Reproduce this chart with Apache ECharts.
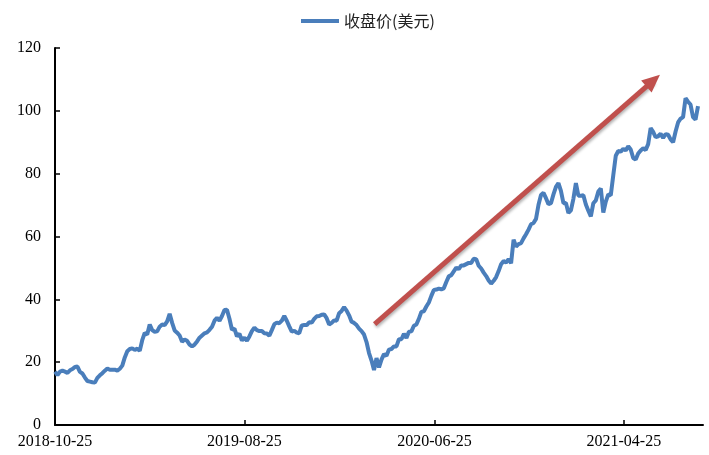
<!DOCTYPE html>
<html>
<head>
<meta charset="utf-8">
<script src="https://cdn.jsdelivr.net/npm/echarts@6/dist/echarts.min.js"></script>
<style>
html,body{margin:0;padding:0;background:#fff;}
#chart{width:709px;height:455px;}
</style>
</head>
<body>
<div id="chart"></div>
<script>
// ---- data ----
const seriesName = '收盘价(美元)';
const startDate = '2018-10-25';
const stepDays = 4;           // spacing between samples (calendar days)
const axisEndDays = 1040;     // axis length in days from startDate
const tickDates = ['2018-10-25', '2019-08-25', '2020-06-25', '2021-04-25'];
const yTicks = [0, 20, 40, 60, 80, 100, 120];
const prices = [
  17.0, 15.9, 17.0, 17.3, 17.0, 16.6, 17.4, 17.8, 18.5, 18.6,
  16.9, 16.4, 15.1, 14.0, 13.8, 13.6, 13.5, 15.0, 15.8, 16.5,
  17.3, 18.0, 17.6, 17.6, 17.6, 17.3, 17.9, 18.9, 21.5, 23.5,
  24.2, 24.4, 23.9, 24.3, 23.6, 27.0, 29.3, 28.8, 32.0, 30.2,
  29.7, 29.8, 31.3, 32.0, 31.8, 33.0, 35.4, 32.5, 30.1, 29.4,
  28.5, 26.5, 27.2, 26.8, 25.6, 25.0, 25.6, 26.6, 27.8, 28.5,
  29.2, 29.5, 30.3, 31.3, 33.2, 34.1, 33.2, 34.7, 36.6, 36.7,
  33.8, 30.3, 30.7, 28.2, 29.1, 26.9, 27.8, 26.8, 28.2, 29.9,
  31.0, 30.2, 29.9, 29.9, 29.2, 29.1, 28.4, 30.2, 32.1, 32.6,
  32.4, 33.2, 34.7, 33.2, 31.4, 29.7, 30.0, 29.4, 29.2, 31.7,
  31.8, 31.8, 32.7, 32.6, 33.8, 34.6, 34.7, 35.1, 35.2, 34.0,
  32.0, 32.5, 33.3, 33.2, 35.6, 36.3, 37.5, 36.4, 34.9, 32.9,
  32.5, 31.8, 30.7, 29.9, 28.8, 26.4, 22.9, 20.5, 17.5, 21.3,
  18.3, 20.8, 22.6, 22.0, 24.0, 24.2, 25.0, 25.0, 27.3, 27.3,
  29.0, 27.7, 29.7, 29.8, 31.6, 32.0, 33.8, 36.0, 36.2, 37.7,
  39.0, 41.1, 43.0, 43.1, 43.4, 43.2, 43.5, 45.5, 47.3, 47.7,
  48.9, 50.1, 49.6, 50.8, 50.8, 51.2, 51.6, 51.6, 52.9, 52.8,
  50.7, 49.8, 48.5, 47.4, 46.0, 45.0, 45.9, 47.1, 49.0, 51.2,
  52.2, 51.7, 52.8, 51.5, 59.0, 56.8, 57.6, 57.9, 59.4, 60.7,
  62.2, 63.9, 64.3, 65.6, 70.1, 73.2, 73.9, 72.2, 70.3, 70.6,
  73.4, 75.8, 77.0, 74.5, 70.6, 70.7, 67.5, 68.3, 72.0, 77.0,
  73.0, 73.0, 73.1, 70.2, 68.2, 66.4, 70.6, 71.5, 74.3, 75.3,
  67.6, 71.1, 73.4, 73.1, 79.5, 85.7, 87.2, 87.0, 87.9, 87.4,
  88.7, 87.7, 85.0, 84.5, 86.4, 87.4, 88.1, 87.5, 89.4, 94.5,
  93.3, 91.6, 91.9, 92.7, 91.4, 92.6, 92.4, 90.9, 90.0, 93.4,
  96.3, 97.5, 98.0, 104.0, 102.9, 102.0, 98.0, 97.2, 101.5
];
// trend arrow annotation, in data units: [days from startDate, price]
const arrowStart = [513, 32.1];
const arrowEnd = [960, 109.6];

// ---- helpers ----
const DAY = 86400000;
function toTime(s) { const p = s.split('-').map(Number); return Date.UTC(p[0], p[1] - 1, p[2]); }
const t0 = toTime(startDate);
const tickDays = tickDates.map(d => Math.round((toTime(d) - t0) / DAY));
const lineData = prices.map((v, i) => [i * stepDays, v]);

const font = 'Liberation Serif, Times New Roman, serif';
const chart = echarts.init(document.getElementById('chart'), null, { renderer: 'canvas' });
chart.setOption({
  animation: false,
  backgroundColor: '#ffffff',
  legend: {
    data: [{ name: seriesName, icon: 'rect' }],
    left: 296, top: 8,
    itemWidth: 38, itemHeight: 4, itemGap: 10,
    textStyle: { fontFamily: 'Noto Sans CJK SC', fontSize: 16, color: '#222' }
  },
  grid: { left: 55, right: 6, top: 48, bottom: 30, containLabel: false },
  xAxis: {
    type: 'value',
    min: 0, max: axisEndDays,
    splitLine: { show: false },
    axisLine: { lineStyle: { color: '#000', width: 2 } },
    axisTick: { inside: true, length: 5, lineStyle: { color: '#000', width: 1.5 }, customValues: tickDays },
    axisLabel: {
      customValues: tickDays,
      formatter: v => tickDates[tickDays.indexOf(Math.round(v))] || '',
      color: '#000', fontFamily: font, fontSize: 16, margin: 9
    }
  },
  yAxis: {
    type: 'value',
    min: yTicks[0], max: yTicks[yTicks.length - 1], interval: 20,
    splitLine: { show: false },
    axisLine: { show: true, lineStyle: { color: '#000', width: 2 } },
    axisTick: { show: true, inside: true, length: 5, lineStyle: { color: '#000', width: 1.5 } },
    axisLabel: { color: '#000', fontFamily: font, fontSize: 16, margin: 14 }
  },
  series: [{
    name: seriesName,
    type: 'line',
    data: lineData,
    showSymbol: false,
    symbol: 'none',
    smooth: false,
    lineStyle: { color: '#4A7EBB', width: 4 },
    itemStyle: { color: '#4A7EBB' },
    markLine: {
      silent: true,
      symbol: ['none', 'triangle'],
      symbolSize: [16, 18],
      label: { show: false },
      lineStyle: {
        color: '#C0504D', width: 5, type: 'solid',
        shadowColor: 'rgba(0,0,0,0.3)', shadowBlur: 3, shadowOffsetX: 1, shadowOffsetY: 2
      },
      data: [[{ coord: arrowStart }, { coord: arrowEnd }]]
    }
  }]
});
</script>
</body>
</html>
